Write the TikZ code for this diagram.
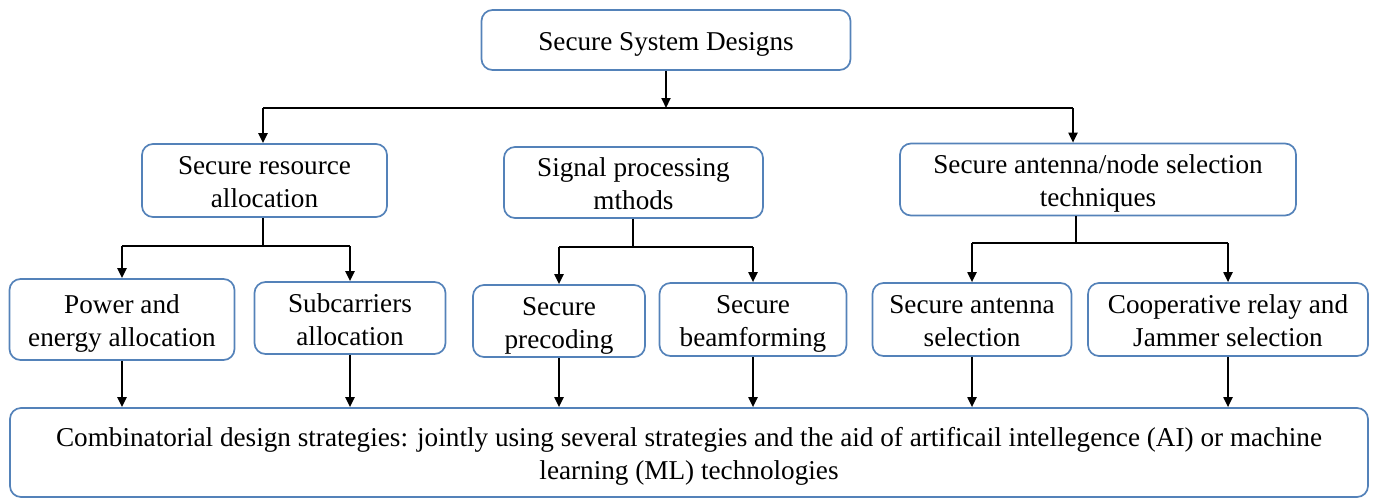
\documentclass[tikz,border=0pt]{standalone}
\usepackage{fontspec}
\setmainfont{Liberation Serif}
\newfontfamily\labelfont{Liberation Serif}
\usetikzlibrary{arrows.meta}
\definecolor{boxblue}{RGB}{84,130,185}
% centred lines of a box label, set slightly below the box centre
\newcommand{\boxtext}[1]{\raisebox{-4pt}[\height][\depth]{\begin{tabular}{@{}c@{}}#1\end{tabular}}}
\begin{document}
\begin{tikzpicture}[x=1pt,y=-1pt,
  box/.style={draw=boxblue, line width=1.7pt, rounded corners=11pt,
    font=\labelfont\fontsize{27.2}{33}\selectfont, inner sep=2pt, anchor=center},
  link/.style={draw=black, line width=2pt},
  arr/.style={link, -{Triangle[width=9pt,length=10pt]}}]
\useasboundingbox (0,0) rectangle (1375,499);

% top level
\node[box, minimum width=369pt, minimum height=60pt] (top) at (666,40) {\boxtext{Secure System Designs}};

% first level
\node[box, minimum width=245pt, minimum height=73pt] (res) at (264.5,180.5) {\boxtext{Secure resource\\allocation}};
\node[box, minimum width=259pt, minimum height=71pt] (sig) at (633.5,182.5) {\boxtext{Signal processing\\mthods}};
\node[box, minimum width=396pt, minimum height=72pt] (ant) at (1098,179.5) {\boxtext{Secure antenna/node selection\\techniques}};

% second level
\node[box, minimum width=225pt, minimum height=81pt] (pow) at (122,319.5) {\boxtext{Power and\\energy allocation}};
\node[box, minimum width=191pt, minimum height=72pt] (sub) at (350,318) {\boxtext{Subcarriers\\allocation}};
\node[box, minimum width=172pt, minimum height=72pt] (pre) at (559,321) {\boxtext{Secure\\precoding}};
\node[box, minimum width=187pt, minimum height=73pt] (bf) at (753,319.5) {\boxtext{Secure\\beamforming}};
\node[box, minimum width=199pt, minimum height=73pt] (sel) at (972,319.5) {\boxtext{Secure antenna\\selection}};
\node[box, minimum width=280pt, minimum height=73pt] (coop) at (1228,319.5) {\boxtext{Cooperative relay and\\Jammer selection}};

% bottom level
\node[box, minimum width=1358pt, minimum height=89pt] (comb) at (689,452.5)
  {\boxtext{Combinatorial design strategies: jointly using several strategies and the aid of artificail intellegence (AI) or machine\\learning (ML) technologies}};

% top bus
\coordinate (busL) at (263,108);
\coordinate (busR) at (1073,108);
\draw[arr] (top.south) -- (top.south |- busL);
\draw[link] (busL) -- (busR);
\draw[arr] (busL) -- (busL |- res.north);
\draw[arr] (busR) -- (busR |- ant.north);

% resource allocation branch
\coordinate (jr) at (263,246);
\draw[link] (res.south -| jr) -- (jr);
\draw[link] (pow.north |- jr) -- (sub.north |- jr);
\draw[arr] (pow.north |- jr) -- (pow.north);
\draw[arr] (sub.north |- jr) -- (sub.north);

% signal processing branch
\coordinate (js) at (633,247);
\draw[link] (sig.south -| js) -- (js);
\draw[link] (pre.north |- js) -- (bf.north |- js);
\draw[arr] (pre.north |- js) -- (pre.north);
\draw[arr] (bf.north |- js) -- (bf.north);

% antenna/node selection branch
\coordinate (ja) at (1076,243);
\draw[link] (ant.south -| ja) -- (ja);
\draw[link] (sel.north |- ja) -- (coop.north |- ja);
\draw[arr] (sel.north |- ja) -- (sel.north);
\draw[arr] (coop.north |- ja) -- (coop.north);

% into the combined strategies box
\foreach \n in {pow,sub,pre,bf,sel,coop}
  \draw[arr] (\n.south) -- (\n.south |- comb.north);
\end{tikzpicture}
\end{document}
